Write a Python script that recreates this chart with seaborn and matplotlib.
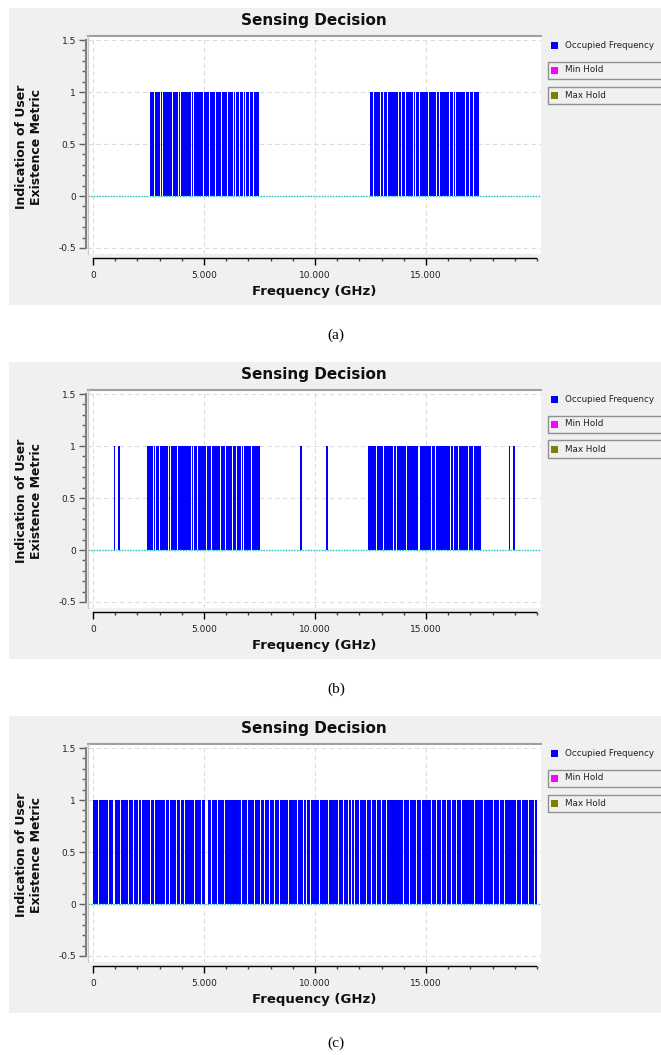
import numpy as np
import pandas as pd
import matplotlib
matplotlib.use("Agg")
import matplotlib.pyplot as plt
import seaborn as sns
from matplotlib.patches import Rectangle
from matplotlib.ticker import MultipleLocator, FuncFormatter

# occupied bands (MHz)
blocks_a = [(2570, 7480), (12480, 17390)]
gaps_a = [2750, 3060, 3150, 3600, 3870, 3960, 4460, 4550, 5000, 5270, 5540,
          5810, 6040, 6310, 6440, 6620, 6760, 6850, 7030, 7250,
          12630, 12930, 13080, 13260, 13750, 13910, 14060, 14430, 14550,
          14730, 15110, 15480, 15600, 16040, 16230, 16350, 16800, 16980, 17160]
gapw_a = [45] * len(gaps_a)

blocks_b = [(930, 1000), (1140, 1210), (2450, 7520), (9340, 9410),
            (10510, 10580), (12400, 17480), (18730, 18800), (18930, 19000)]
gaps_b = [2748, 2838, 3018, 3410, 3514, 3798, 4446, 4550, 4699, 5091, 5347,
          5753, 5947, 6293, 6487, 6699, 6802, 7149,
          12781, 13078, 13529, 13650, 14132, 14655, 14731, 15258, 15407,
          16083, 16232, 16457, 16908, 17133]
gapw_b = [45] * len(gaps_b)

blocks_c = [(15, 19990)]
gaps_c = [226, 451, 691, 932, 1232, 1592, 1833, 2028, 2178, 2584, 2779, 3260,
          3455, 3755, 3935, 4131, 4281, 4581, 4882, 5107, 5332, 5588, 5933,
          6309, 6684, 6940, 7285, 7540, 7736, 7961, 8186, 8412, 8562, 8787,
          9012, 9193, 9463, 9613, 9793, 10214, 10589, 10815, 11040, 11265,
          11491, 11641, 11791, 12016, 12317, 12542, 12767, 12993, 13218,
          13368, 13593, 13744, 13969, 14269, 14570, 14795, 15246, 15471,
          15696, 15922, 16147, 16372, 16597, 16898, 17198, 17574, 17799,
          18024, 18325, 18550, 18775, 19076, 19301, 19601, 19902]
gapw_c = [45, 20, 45, 75, 45, 45, 45, 45, 20, 75, 45, 20,
          45, 20, 45, 45, 20, 45, 45, 150, 45, 45, 45,
          20, 45, 45, 20, 45, 20, 45, 20, 45, 20, 45,
          20, 45, 45, 45, 45, 45, 45, 20, 45, 45,
          45, 45, 45, 45, 20, 45, 45, 20, 45,
          20, 20, 20, 45, 45, 20, 45, 20, 45,
          20, 45, 20, 45, 45, 20, 45, 45, 20,
          45, 45, 45, 20, 45, 45, 45, 45]

y_ticks = [-0.5, 0, 0.5, 1, 1.5]
x_ticks = [0, 5000, 10000, 15000]
legend_labels = ["Occupied Frequency", "Min Hold", "Max Hold"]
legend_colors = ["#0000ff", "#ff00ff", "#808000"]

W, H = 661, 1055
BG = "#f0f0f0"


def fx(px):
    return px / W


def fy(py):
    return 1 - py / H


def occupied(blocks, gaps, widths):
    segs = []
    for s, e in blocks:
        cuts = sorted((c - w / 2, c + w / 2) for c, w in zip(gaps, widths) if s < c < e)
        pos = s
        for g0, g1 in cuts:
            if g0 > pos:
                segs.append((pos, g0))
            pos = g1
        if e > pos:
            segs.append((pos, e))
    return segs


def draw_panel(fig, top, blocks, gaps, widths, caption):
    fig.add_artist(Rectangle((fx(9), fy(top + 297)), fx(652), 297 / H,
                             transform=fig.transFigure, facecolor=BG,
                             edgecolor="none", zorder=-5))
    ax = fig.add_axes([fx(88), fy(top + 246), fx(453), 218 / H])
    ax.set_facecolor("white")

    segs = occupied(blocks, gaps, widths)
    edges = [float(v) for v in np.unique(np.array(segs).ravel())]
    df = pd.DataFrame({"freq": [(a + b) / 2 for a, b in segs],
                       "occ": [1.0] * len(segs)})
    sns.histplot(data=df, x="freq", weights="occ", bins=edges, ax=ax,
                 color="#0000ff", alpha=1, linewidth=0, element="bars",
                 fill=True, zorder=3)
    ax.axhline(0, color="#20c8c8", lw=1.0, ls=(0, (1, 1)), zorder=4)

    ax.set_xlim(-225, 20182)
    ax.set_ylim(-0.5577, 1.5385)
    ax.set_xlabel("")
    ax.set_ylabel("")

    ax.set_yticks(y_ticks)
    ax.yaxis.set_minor_locator(MultipleLocator(0.1))
    ax.set_yticklabels([f"{v:g}" for v in y_ticks])
    ax.set_xticks(x_ticks)
    ax.xaxis.set_minor_locator(MultipleLocator(1000))
    ax.xaxis.set_major_formatter(FuncFormatter(lambda v, p: f"{int(v):,}".replace(",", ".")))

    ax.grid(True, which="major", color="#dcdcdc", lw=0.8, ls=(0, (4, 3)), zorder=0)
    ax.set_axisbelow(True)

    ax.spines["right"].set_visible(False)
    ax.spines["top"].set_color("#a0a0a0")
    ax.spines["top"].set_linewidth(1.5)
    ax.spines["left"].set_color("#808080")
    ax.spines["left"].set_linewidth(1.5)
    ax.spines["left"].set_position(("outward", 1.5))
    ax.spines["left"].set_bounds(-0.5, 1.5)
    ax.spines["bottom"].set_color("black")
    ax.spines["bottom"].set_linewidth(1.0)
    ax.spines["bottom"].set_position(("outward", 3))
    ax.spines["bottom"].set_bounds(0, 19950)
    ax.plot([0, 0], [0, 1], transform=ax.transAxes, color="#c8c8c8", lw=1, zorder=5,
            clip_on=False)

    ax.tick_params(which="both", left=True, bottom=True, top=False, right=False,
                   direction="out")
    ax.tick_params(axis="y", which="major", length=5, width=1, color="#606060",
                   labelsize=6.5, pad=2, labelcolor="#202020")
    ax.tick_params(axis="y", which="minor", length=3, width=1, color="#606060")
    ax.tick_params(axis="x", which="major", length=5, width=1, color="black",
                   labelsize=6.5, pad=4, labelcolor="#202020")
    ax.tick_params(axis="x", which="minor", length=2.5, width=1, color="#404040")

    fig.text(fx(314), fy(top + 12), "Sensing Decision", ha="center", va="center",
             fontsize=11, fontweight="bold", color="#101010")
    fig.text(fx(314), fy(top + 283), "Frequency (GHz)", ha="center", va="center",
             fontsize=9.5, fontweight="bold", color="#101010")
    fig.text(fx(29), fy(top + 139), "Indication of User\nExistence Metric",
             ha="center", va="center", rotation=90, fontsize=9,
             fontweight="bold", color="#101010", linespacing=1.1)

    # legend on the right
    for i, (lab, col) in enumerate(zip(legend_labels, legend_colors)):
        cy = top + 37 + 25 * i
        if i > 0:
            fig.add_artist(Rectangle((fx(548), fy(cy + 8.5)), fx(120), 17 / H,
                                     transform=fig.transFigure, facecolor=BG,
                                     edgecolor="#909090", lw=1, zorder=1))
        fig.add_artist(Rectangle((fx(551), fy(cy + 3.5)), fx(7), 7 / H,
                                 transform=fig.transFigure, facecolor=col,
                                 edgecolor="none", zorder=2))
        fig.text(fx(565), fy(cy), lab, ha="left", va="center", fontsize=6.3,
                 color="#202020")

    fig.text(fx(336), fy(top + 327), caption, ha="center", va="center",
             fontsize=11, family="Liberation Serif", color="black")
    return ax


sns.set_style("white")
plt.rcParams["font.family"] = ["DejaVu Sans"]

fig = plt.figure(figsize=(W / 100, H / 100), dpi=100)
fig.patch.set_facecolor("white")

draw_panel(fig, 8, blocks_a, gaps_a, gapw_a, "(a)")
draw_panel(fig, 362, blocks_b, gaps_b, gapw_b, "(b)")
draw_panel(fig, 716, blocks_c, gaps_c, gapw_c, "(c)")

fig.savefig("out.png", dpi=100, facecolor="white")
